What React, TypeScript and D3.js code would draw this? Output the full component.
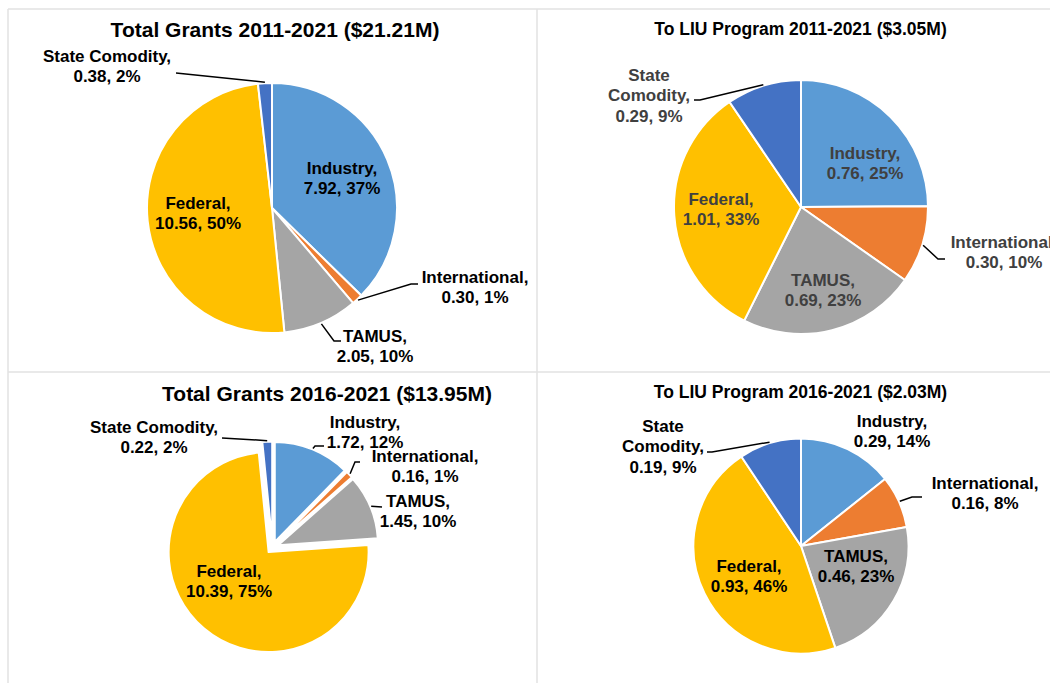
import React from "react";
import * as d3 from "d3";

// categories and values (in $M), in clockwise order from 12 o'clock
const categories = ["Industry", "International", "TAMUS", "Federal", "State Comodity"];
const colors = ["#5B9BD5", "#ED7D31", "#A5A5A5", "#FFC000", "#4472C4"];

const titles = [
  "Total Grants 2011-2021 ($21.21M)",
  "To LIU Program 2011-2021 ($3.05M)",
  "Total Grants 2016-2021 ($13.95M)",
  "To LIU Program 2016-2021 ($2.03M)",
];

const total2011 = [7.92, 0.3, 2.05, 10.56, 0.38];
const liu2011 = [0.76, 0.3, 0.69, 1.01, 0.29];
const total2016 = [1.72, 0.16, 1.45, 10.39, 0.22];
const liu2016 = [0.29, 0.16, 0.46, 0.93, 0.19];

// percentages as printed on the labels
const pctTotal2011 = [37, 1, 10, 50, 2];
const pctLiu2011 = [25, 10, 23, 33, 9];
const pctTotal2016 = [12, 1, 10, 75, 2];
const pctLiu2016 = [14, 8, 23, 46, 9];

type LabelPos = { x: number; y: number; split?: boolean; leader?: number[][] };

// layout of each panel
const panels = [
  {
    values: total2011, pcts: pctTotal2011, title: titles[0],
    cx: 272, cy: 208, r: 125, explode: 0,
    tx: 275, ty: 37, tsize: 21, color: "#000",
    labels: [
      { x: 342, y: 174 },
      { x: 475, y: 283, leader: [[411, 284], [418, 284]] },
      { x: 375, y: 342, leader: [[334, 341], [341, 341]] },
      { x: 198, y: 209 },
      { x: 107, y: 62, leader: [[176, 73]] },
    ] as LabelPos[],
  },
  {
    values: liu2011, pcts: pctLiu2011, title: titles[1],
    cx: 801, cy: 207, r: 127, explode: 0,
    tx: 800.5, ty: 35, tsize: 17.5, color: "#404040",
    labels: [
      { x: 865, y: 159 },
      { x: 1004, y: 248, leader: [[938, 259], [945, 259]] },
      { x: 823, y: 286 },
      { x: 721, y: 205 },
      { x: 649, y: 81, split: true, leader: [[700, 100], [694, 100]] },
    ] as LabelPos[],
  },
  {
    values: total2016, pcts: pctTotal2016, title: titles[2],
    cx: 272.5, cy: 547.5, r: 100, explode: 6,
    tx: 327, ty: 401, tsize: 21, color: "#000",
    labels: [
      { x: 365, y: 428, leader: [[315, 446], [324, 446]] },
      { x: 425, y: 462, leader: [[355, 462], [360, 462]] },
      { x: 418, y: 507, leader: [[382, 507]] },
      { x: 229, y: 577 },
      { x: 154, y: 433, leader: [[222, 438]] },
    ] as LabelPos[],
  },
  {
    values: liu2016, pcts: pctLiu2016, title: titles[3],
    cx: 801, cy: 546, r: 107.5, explode: 0,
    tx: 800.5, ty: 398, tsize: 17.5, color: "#000",
    labels: [
      { x: 892, y: 427 },
      { x: 985, y: 489, leader: [[912, 497], [922, 497]] },
      { x: 856, y: 562 },
      { x: 749, y: 572 },
      { x: 663, y: 432, split: true, leader: [[712, 452], [707, 452]] },
    ] as LabelPos[],
  },
];

const FONT = "'Liberation Sans', Arial, sans-serif";
const LINE_H = 20.4;

const PiePanel = ({ p }: { p: (typeof panels)[number] }) => {
  const pie = d3.pie<number>().sort(null).value((d) => d);
  const arcs = pie(p.values);
  const arc = d3.arc<d3.PieArcDatum<number>>().innerRadius(0).outerRadius(p.r);
  const offsetArc = d3
    .arc<d3.PieArcDatum<number>>()
    .innerRadius(p.explode)
    .outerRadius(p.explode);
  const edgeArc = d3
    .arc<d3.PieArcDatum<number>>()
    .innerRadius(p.r + p.explode + 1)
    .outerRadius(p.r + p.explode + 1);
  const line = d3.line();

  return (
    <g>
      <text
        x={p.tx}
        y={p.ty}
        textAnchor="middle"
        fontFamily={FONT}
        fontWeight="bold"
        fontSize={p.tsize}
        fill="#000"
      >
        {p.title}
      </text>
      <g transform={`translate(${p.cx},${p.cy})`}>
        {arcs.map((a, i) => {
          const [ox, oy] = p.explode ? offsetArc.centroid(a) : [0, 0];
          return (
            <path
              key={i}
              d={arc(a) || ""}
              transform={`translate(${ox},${oy})`}
              fill={colors[i]}
              stroke="#fff"
              strokeWidth={2}
              strokeLinejoin="round"
            />
          );
        })}
      </g>
      {arcs.map((a, i) => {
        const lab = p.labels[i];
        if (!lab.leader) return null;
        const [ex, ey] = edgeArc.centroid(a);
        const pts: [number, number][] = [
          [p.cx + ex, p.cy + ey],
          ...lab.leader.map((q) => [q[0], q[1]] as [number, number]),
        ];
        return (
          <path
            key={"l" + i}
            d={line(pts) || ""}
            fill="none"
            stroke="#000"
            strokeWidth={1.5}
          />
        );
      })}
      {arcs.map((a, i) => {
        const lab = p.labels[i];
        const name = categories[i];
        const head = lab.split ? name.split(" ") : [name];
        head[head.length - 1] += ",";
        const lines = [...head, `${p.values[i].toFixed(2)}, ${p.pcts[i]}%`];
        return (
          <text
            key={"t" + i}
            textAnchor="middle"
            fontFamily={FONT}
            fontWeight="bold"
            fontSize={17}
            fill={p.color}
          >
            {lines.map((s, k) => (
              <tspan key={k} x={lab.x} y={lab.y + k * LINE_H}>
                {s}
              </tspan>
            ))}
          </text>
        );
      })}
    </g>
  );
};

export default function App() {
  return (
    <svg
      width={1050}
      height={683}
      style={{ position: "absolute", left: 0, top: 0, background: "#fff" }}
    >
      <g stroke="#e2e2e2" strokeWidth={1.5}>
        <line x1={8} y1={9} x2={1050} y2={9} />
        <line x1={8} y1={372} x2={1050} y2={372} />
        <line x1={8} y1={9} x2={8} y2={683} />
        <line x1={537} y1={9} x2={537} y2={683} />
      </g>
      {panels.map((p, i) => (
        <PiePanel key={i} p={p} />
      ))}
    </svg>
  );
}
